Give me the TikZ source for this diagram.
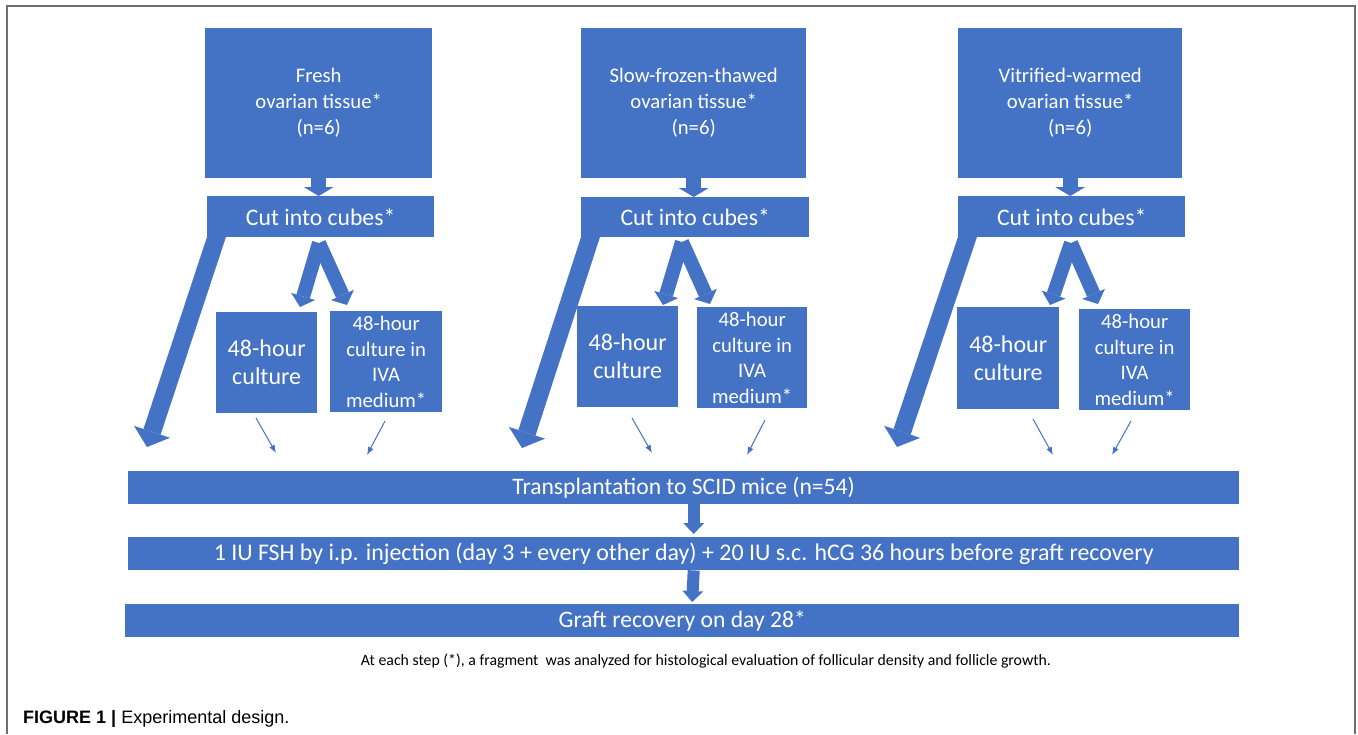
\documentclass[tikz,border=0pt]{standalone}
\usepackage{fontspec}
\setmainfont{Carlito}
\newfontfamily\capfont{Liberation Sans}
\usetikzlibrary{arrows.meta,calc}
\definecolor{obl}{HTML}{4472C4}
\definecolor{framegray}{HTML}{6E6E6E}
\begin{document}
\begin{tikzpicture}[x=1pt,y=-1pt,
  box/.style={fill=obl, text=white, inner sep=0pt, align=center, anchor=north west},
  topbox/.style={box, font=\fontsize{20.7}{26}\selectfont},
  cutbox/.style={box, font=\fontsize{23.7}{28}\selectfont},
  abox/.style={box, font=\fontsize{24}{28}\selectfont},
  bbox/.style={box, font=\fontsize{20.7}{25.5}\selectfont},
  barbox/.style={box, font=\fontsize{23.6}{28}\selectfont},
  downarr/.style={draw=obl, line width=15pt, -{Triangle[width=30pt,length=9pt,line width=0pt]}},
  forkarr/.style={draw=obl, line width=14pt, -{Triangle[width=25pt,length=11pt,line width=0pt]}},
  fatarr/.style={draw=obl, line width=18pt, -{Triangle[width=38pt,length=16pt,line width=0pt]}},
  thinarr/.style={draw=obl, line width=1pt, -{Latex[width=6pt,length=8pt]}},
  bararr/.style={draw=obl, line width=12pt, -{Triangle[width=21pt,length=11pt,line width=0pt]}}
]
\useasboundingbox (0,0) rectangle (1358,734);
\fill[white] (0,0) rectangle (1358,734);
\draw[framegray, line width=2pt] (7,734) -- (7,6) -- (1355,6) -- (1355,734);

% column 1
\node[topbox, minimum width=227, minimum height=150] (top1) at (205,28) {Fresh\\ovarian tissue*\\(n=6)};
\node[cutbox, minimum width=227, minimum height=41] (cut1) at (207,196) {Cut into cubes*};
\node[abox, minimum width=101, minimum height=101] (a1) at (216,312) {48-hour\\culture};
\node[bbox, minimum width=112, minimum height=101] (b1) at (330,311) {48-hour\\culture in\\IVA\\medium*};
% column 2
\node[topbox, minimum width=225, minimum height=150] (top2) at (581,28) {Slow-frozen-thawed\\ovarian tissue*\\(n=6)};
\node[cutbox, minimum width=228, minimum height=40] (cut2) at (581,197) {Cut into cubes*};
\node[abox, minimum width=101, minimum height=101] (a2) at (577,306) {48-hour\\culture};
\node[bbox, minimum width=110, minimum height=101] (b2) at (697,307) {48-hour\\culture in\\IVA\\medium*};
% column 3
\node[topbox, minimum width=224, minimum height=150] (top3) at (958,28) {Vitrified-warmed\\ovarian tissue*\\(n=6)};
\node[cutbox, minimum width=227, minimum height=41] (cut3) at (958,196) {Cut into cubes*};
\node[abox, minimum width=102, minimum height=102] (a3) at (957,307) {48-hour\\culture};
\node[bbox, minimum width=111, minimum height=101] (b3) at (1079,309) {48-hour\\culture in\\IVA\\medium*};

% bars
\node[barbox, minimum width=1111, minimum height=33] (bar1) at (128,471) {Transplantation to SCID mice (n=54)};
\node[barbox, font=\fontsize{23.9}{28}\selectfont, minimum width=1111, minimum height=33] (bar2) at (128,537) {1 IU FSH by i.p. injection (day 3 + every other day) + 20 IU s.c. hCG 36 hours before graft recovery};
\node[barbox, minimum width=1114, minimum height=33] (bar3) at (125,604) {Graft recovery on day 28*};

% down arrows top -> cut
\draw[downarr] (top1.south) -- (top1.south |- cut1.north);
\draw[downarr] (top2.south) -- (top2.south |- cut2.north);
\draw[downarr] (top3.south) -- (top3.south |- cut3.north);

% fork coordinates
\coordinate (ap1) at (319,243); \coordinate (fl1) at (300,307); \coordinate (fr1) at (347,305);
\coordinate (ap2) at (682,242); \coordinate (fl2) at (663,305); \coordinate (fr2) at (710,304);
\coordinate (ap3) at (1071,243); \coordinate (fl3) at (1050,305); \coordinate (fr3) at (1098,304);
\foreach \i in {1,2,3}{
  \draw[forkarr] (ap\i) -- (fl\i);
  \draw[forkarr] (ap\i) -- (fr\i);
}

% fat arrows
\coordinate (ft1) at (147,447);
\coordinate (ft2) at (522,448);
\coordinate (ft3) at (897,447);
\draw[fatarr] ($(cut1.south west)+(11,-5)$) -- (ft1);
\draw[fatarr] ($(cut2.south west)+(11,-5)$) -- (ft2);
\draw[fatarr] ($(cut3.south west)+(11,-5)$) -- (ft3);

% thin arrows
\coordinate (ta1) at (276,453); \coordinate (tb1) at (367,455);
\coordinate (ta2) at (652,453); \coordinate (tb2) at (747,455);
\coordinate (ta3) at (1053,455); \coordinate (tb3) at (1112,455);
\draw[thinarr] (256,418) -- (ta1);
\draw[thinarr] (385,421) -- (tb1);
\draw[thinarr] (632,418) -- (ta2);
\draw[thinarr] (765,420) -- (tb2);
\draw[thinarr] (1033,419) -- (ta3);
\draw[thinarr] (1131,421) -- (tb3);

% bar arrows
\draw[bararr] ($(bar1.south)+(10,0)$) -- ($(bar2.north)+(10,-3)$);
\draw[bararr] ($(bar2.south)+(10,0)$) -- ($(bar3.north)+(10,-2)$);

% footnote
\node[anchor=base, inner sep=0pt, font=\fontsize{15.8}{18}\selectfont] (note) at (706,665) {At each step (*), a fragment\ \ was analyzed for histological evaluation of follicular density and follicle growth.};

% caption
\node[anchor=base west, inner sep=0pt, font=\capfont\fontsize{18}{21}\selectfont] (cap) at (23,723) {\textbf{FIGURE 1 |} Experimental design.};
\end{tikzpicture}
\end{document}
